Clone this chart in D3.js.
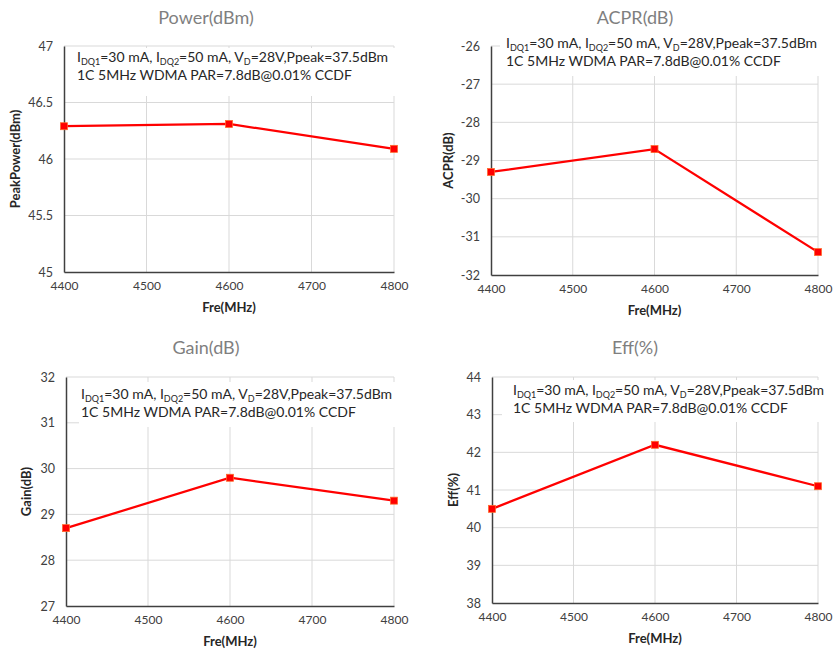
<!DOCTYPE html>
<html><head><meta charset="utf-8">
<script src="https://cdn.jsdelivr.net/npm/d3@7/dist/d3.min.js"></script>
<style>body{margin:0;background:#fff;} svg{display:block;}</style>
</head><body>
<svg id="c" width="833" height="650"></svg>
<script>
const freqs = [4400, 4600, 4800];
const xTicks = [4400, 4500, 4600, 4700, 4800];
const powerValues = [46.29, 46.31, 46.09];
const acprValues = [-29.3, -28.7, -31.4];
const gainValues = [28.7, 29.8, 29.3];
const effValues = [40.5, 42.2, 41.1];
const powerTicks = [45, 45.5, 46, 46.5, 47];
const acprTicks = [-32, -31, -30, -29, -28, -27, -26];
const gainTicks = [27, 28, 29, 30, 31, 32];
const effTicks = [38, 39, 40, 41, 42, 43, 44];
const titles = ["Power(dBm)", "ACPR(dB)", "Gain(dB)", "Eff(%)"];
const yTitles = ["PeakPower(dBm)", "ACPR(dB)", "Gain(dB)", "Eff(%)"];
const xTitle = "Fre(MHz)";
const noteLine2 = "1C 5MHz WDMA PAR=7.8dB@0.01% CCDF";

const FONT = "Lato, 'Open Sans', sans-serif";
const svg = d3.select("#c");
const plain = d => String(d).replace("\u2212", "-");

const panels = [
  {vals: powerValues, ticks: powerTicks, x0: 64, x1: 394, yT: 46, yB: 272, cx: 206, ty: 24, yl: 17,
   box: [70, 48, 395, 96], noteX: 77, noteY: 62},
  {vals: acprValues, ticks: acprTicks, x0: 491, x1: 818, yT: 46, yB: 275, cx: 635, ty: 24, yl: 450,
   box: [500, 31, 822, 76], noteX: 506, noteY: 48},
  {vals: gainValues, ticks: gainTicks, x0: 66, x1: 394, yT: 377, yB: 606, cx: 206, ty: 354, yl: 28,
   box: [79, 382, 396, 427], noteX: 81, noteY: 399},
  {vals: effValues, ticks: effTicks, x0: 492, x1: 818, yT: 377, yB: 603, cx: 635, ty: 354, yl: 455,
   box: [502, 380, 822, 422], noteX: 513, noteY: 395},
];

panels.forEach((p, i) => {
  const g = svg.append("g");
  const x = d3.scaleLinear().domain([4400, 4800]).range([p.x0, p.x1]);
  const y = d3.scaleLinear().domain([p.ticks[0], p.ticks[p.ticks.length - 1]]).range([p.yB, p.yT]);

  // gridlines
  g.append("g").selectAll("line").data(p.ticks.slice(1)).join("line")
    .attr("x1", p.x0).attr("x2", p.x1).attr("y1", d => y(d)).attr("y2", d => y(d))
    .attr("stroke", "#d9d9d9").attr("stroke-width", 1);
  g.append("g").selectAll("line").data(xTicks.slice(1)).join("line")
    .attr("x1", d => x(d)).attr("x2", d => x(d)).attr("y1", p.yT).attr("y2", p.yB)
    .attr("stroke", "#d9d9d9").attr("stroke-width", 1);

  // annotation box
  g.append("rect").attr("x", p.box[0]).attr("y", p.box[1])
    .attr("width", p.box[2] - p.box[0]).attr("height", p.box[3] - p.box[1]).attr("fill", "#fff");

  // axes
  const ya = g.append("g").attr("transform", `translate(${p.x0},0)`)
    .call(d3.axisLeft(y).tickValues(p.ticks).tickFormat(plain).tickSize(0).tickPadding(11));
  ya.select(".domain").attr("stroke", "#404040").attr("stroke-width", 1.5);
  ya.selectAll("text").attr("font-family", FONT).attr("font-size", 12.5).attr("fill", "#404040");
  const xa = g.append("g").attr("transform", `translate(0,${p.yB})`)
    .call(d3.axisBottom(x).tickValues(xTicks).tickFormat(plain).tickSize(0).tickPadding(9));
  xa.select(".domain").attr("stroke", "#404040").attr("stroke-width", 1.5);
  xa.selectAll("text").attr("font-family", FONT).attr("font-size", 12).attr("fill", "#404040");

  // titles
  g.append("text").attr("x", p.cx).attr("y", p.ty).attr("text-anchor", "middle")
    .attr("font-family", FONT).attr("font-size", 18).attr("fill", "#7f7f7f").text(titles[i]);
  g.append("text").attr("x", (p.x0 + p.x1) / 2).attr("y", p.yB + 40).attr("text-anchor", "middle")
    .attr("font-family", FONT).attr("font-size", 13).attr("font-weight", "bold").attr("fill", "#262626").text(xTitle);
  g.append("text").attr("transform", `translate(${p.yl},${(p.yT + p.yB) / 2}) rotate(-90)`)
    .attr("text-anchor", "middle").attr("dominant-baseline", "middle")
    .attr("font-family", FONT).attr("font-size", 13).attr("font-weight", "bold").attr("fill", "#262626").text(yTitles[i]);

  // note
  const t1 = g.append("text").attr("x", p.noteX).attr("y", p.noteY)
    .attr("font-family", FONT).attr("font-size", 14).attr("fill", "#262626");
  const parts = [["I", 0], ["DQ1", 1], ["=30 mA, I", 0], ["DQ2", 1], ["=50 mA, V", 0], ["D", 1], ["=28V,Ppeak=37.5dBm", 0]];
  let prevSub = false;
  parts.forEach(([s, sub]) => {
    const ts = t1.append("tspan").text(s);
    if (sub) { ts.attr("font-size", 9).attr("dy", 3); prevSub = true; }
    else if (prevSub) { ts.attr("dy", -3); prevSub = false; }
  });
  g.append("text").attr("x", p.noteX).attr("y", p.noteY + 18)
    .attr("font-family", FONT).attr("font-size", 14).attr("fill", "#262626").text(noteLine2);

  // series
  const pts = freqs.map((f, k) => [f, p.vals[k]]);
  g.append("path").datum(pts)
    .attr("d", d3.line().x(d => x(d[0])).y(d => y(d[1])))
    .attr("fill", "none").attr("stroke", "#ff0000").attr("stroke-width", 2.25);
  g.selectAll("rect.m").data(pts).join("rect")
    .attr("x", d => x(d[0]) - 3.5).attr("y", d => y(d[1]) - 3.5)
    .attr("width", 7).attr("height", 7)
    .attr("fill", "#ff0000").attr("stroke", "#ff6a2a").attr("stroke-width", 0.75);
});
</script>
</body></html>
